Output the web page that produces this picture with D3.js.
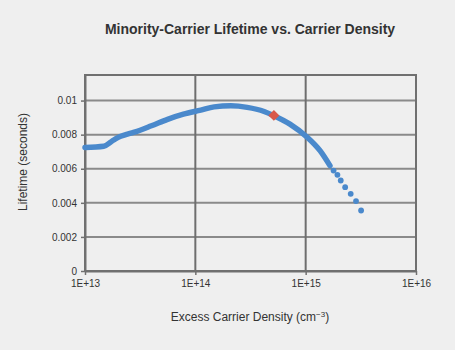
<!DOCTYPE html>
<html>
<head>
<meta charset="utf-8">
<script src="https://cdn.jsdelivr.net/npm/d3@7"></script>
<style>
  body { margin: 0; background: #efefef; }
  svg { display: block; font-family: "Liberation Sans Narrow", "Liberation Sans", sans-serif; }
  .tick text { fill: #333; font-size: 10px; }
</style>
</head>
<body>
<svg id="chart"></svg>
<script>
"use strict";

var width  = 455,
    height = 350;

// excess carrier density (cm^-3) and lifetime (s)
var densDense = [1.0e13, 1.48e13, 1.74e13, 2.0e13, 2.34e13, 2.75e13, 4.0e13, 5.6e13, 7.8e13,
                 1.12e14, 1.48e14, 2.1e14, 2.95e14, 4.2e14, 5.1e14, 7.2e14, 1.02e15, 1.35e15, 1.66e15];
var lifeDense = [0.00725, 0.00732, 0.0076, 0.00784, 0.0080, 0.00813, 0.00852, 0.0089, 0.0092,
                 0.00944, 0.00963, 0.00969, 0.0096, 0.00936, 0.00913, 0.00862, 0.00788, 0.00706, 0.00618];
var densTail  = [1.79e15, 1.94e15, 2.08e15, 2.28e15, 2.56e15, 2.86e15, 3.18e15];
var lifeTail  = [0.00589, 0.00564, 0.00531, 0.00492, 0.00453, 0.0041, 0.00355];
var markDens  = [5.15e14],
    markLife  = [0.00913];

var xTicks = [1e13, 1e14, 1e15, 1e16],
    xTickLabels = ["1E+13", "1E+14", "1E+15", "1E+16"];
var yTicks = [0, 0.002, 0.004, 0.006, 0.008, 0.01],
    yTickLabels = ["0", "0.002", "0.004", "0.006", "0.008", "0.01"];

var margin = {top: 75, right: 39, bottom: 79, left: 85};
var w = width - margin.left - margin.right,
    h = height - margin.top - margin.bottom;

var svg = d3.select("#chart")
            .attr("width", width)
            .attr("height", height);

var g = svg.append("g")
           .attr("transform", "translate(" + margin.left + "," + margin.top + ")");

var x = d3.scaleLog().domain([1e13, 1e16]).range([0, w]);
var y = d3.scaleLinear().domain([0, 0.0115]).range([h, 0]);

// grid
g.selectAll(".hgrid")
  .data(yTicks.slice(1))
  .enter().append("line")
    .attr("x1", 0).attr("x2", w)
    .attr("y1", function(d) { return y(d); })
    .attr("y2", function(d) { return y(d); })
    .attr("stroke", "#8a8a8a")
    .attr("stroke-width", 2);

g.selectAll(".vgrid")
  .data(xTicks.slice(1, 3))
  .enter().append("line")
    .attr("x1", function(d) { return x(d); })
    .attr("x2", function(d) { return x(d); })
    .attr("y1", 0).attr("y2", h)
    .attr("stroke", "#6e6e6e")
    .attr("stroke-width", 2);

g.append("rect")
  .attr("width", w).attr("height", h)
  .attr("fill", "none")
  .attr("stroke", "#707070")
  .attr("stroke-width", 2);

// axes
var xAxis = g.append("g")
  .attr("transform", "translate(0," + h + ")")
  .call(d3.axisBottom(x).tickValues(xTicks)
          .tickFormat(function(d, i) { return xTickLabels[i]; })
          .tickSizeInner(4).tickSizeOuter(0));

var yAxis = g.append("g")
  .call(d3.axisLeft(y).tickValues(yTicks)
          .tickFormat(function(d, i) { return yTickLabels[i]; })
          .tickSizeInner(4).tickSizeOuter(0));

[xAxis, yAxis].forEach(function(a) {
  a.select(".domain").attr("stroke", "#707070").attr("stroke-width", 2);
  a.selectAll(".tick line").attr("stroke", "#707070").attr("stroke-width", 1.5);
});
xAxis.selectAll(".tick text").attr("dy", "0.9em");
yAxis.selectAll(".tick text").attr("dx", "-0.1em");

// data curve
var pts = densDense.map(function(d, i) { return [d, lifeDense[i]]; });
g.append("path")
  .datum(pts)
  .attr("fill", "none")
  .attr("stroke", "#4a89cc")
  .attr("stroke-width", 5.5)
  .attr("stroke-linecap", "round")
  .attr("d", d3.line()
      .curve(d3.curveMonotoneX)
      .x(function(d) { return x(d[0]); })
      .y(function(d) { return y(d[1]); }));

g.selectAll(".tail")
  .data(densTail)
  .enter().append("circle")
    .attr("cx", function(d) { return x(d); })
    .attr("cy", function(d, i) { return y(lifeTail[i]); })
    .attr("r", 2.9)
    .attr("fill", "#4a89cc");

g.selectAll(".mark")
  .data(markDens)
  .enter().append("path")
    .attr("transform", function(d, i) {
      return "translate(" + x(d) + "," + y(markLife[i]) + ") rotate(45)";
    })
    .attr("d", d3.symbol().type(d3.symbolSquare).size(60))
    .attr("fill", "#d9584a");

// labels
svg.append("text")
  .attr("x", 250).attr("y", 34)
  .attr("text-anchor", "middle")
  .attr("font-size", 14)
  .attr("font-weight", "bold")
  .attr("fill", "#333")
  .text("Minority-Carrier Lifetime vs. Carrier Density");

svg.append("text")
  .attr("x", 250).attr("y", 321)
  .attr("text-anchor", "middle")
  .attr("font-size", 12)
  .attr("fill", "#333")
  .html("Excess Carrier Density (cm<tspan baseline-shift='super' font-size='8'>−3</tspan>)");

svg.append("text")
  .attr("transform", "translate(27,162) rotate(-90)")
  .attr("text-anchor", "middle")
  .attr("font-size", 12)
  .attr("fill", "#333")
  .text("Lifetime (seconds)");
</script>
</body>
</html>
